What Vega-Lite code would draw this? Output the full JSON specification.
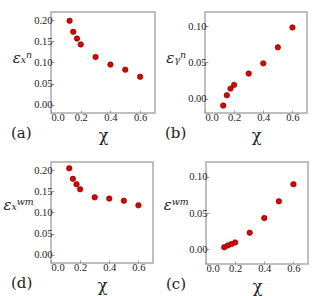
{
  "$schema": "https://vega.github.io/schema/vega-lite/v6.json",
  "background": "white",
  "padding": {"left": 2, "top": 11, "right": 2, "bottom": 0},
  "config": {
    "view": {"stroke": "#aaaaaa", "strokeWidth": 1.5},
    "axis": {"grid": false, "domain": false, "labelFont": "Liberation Serif", "labelFontSize": 10.5, "labelColor": "#222222", "tickColor": "#999999", "tickSize": -3, "labelPadding": 2, "titleFont": "DejaVu Serif", "titleFontWeight": "normal", "titleColor": "#222222"},
    "title": {"font": "DejaVu Serif", "fontSize": 15, "fontWeight": "normal", "color": "#222222"},
    "concat": {"spacing": 8}
  },
  "datasets": {
    "d": [
      {"chi": 0.125, "ex": 0.199, "ey": -0.0097, "exwm": 0.205, "ewm": 0.003},
      {"chi": 0.15, "ex": 0.173, "ey": 0.0046, "exwm": 0.180, "ewm": 0.0055},
      {"chi": 0.175, "ex": 0.157, "ey": 0.0138, "exwm": 0.167, "ewm": 0.0073},
      {"chi": 0.2, "ex": 0.143, "ey": 0.019, "exwm": 0.155, "ewm": 0.0096},
      {"chi": 0.3, "ex": 0.113, "ey": 0.0346, "exwm": 0.136, "ewm": 0.023},
      {"chi": 0.4, "ex": 0.095, "ey": 0.0488, "exwm": 0.133, "ewm": 0.043},
      {"chi": 0.5, "ex": 0.083, "ey": 0.071, "exwm": 0.128, "ewm": 0.066},
      {"chi": 0.6, "ex": 0.066, "ey": 0.0986, "exwm": 0.117, "ewm": 0.0895}
    ]
  },
  "vconcat": [
    {
      "hconcat": [
        {
          "width": 104, "height": 101,
          "data": {"name": "d"},
          "title": {"text": "(a)", "orient": "bottom", "anchor": "start", "frame": "group", "dx": -40, "offset": -18},
          "mark": {"type": "point", "filled": true, "fill": "#e00000", "stroke": "#550000", "strokeWidth": 0.6, "opacity": 1, "size": 30},
          "encoding": {
            "x": {"field": "chi", "type": "quantitative", "scale": {"domain": [0, 0.7], "nice": false}, "axis": {"values": [0, 0.2, 0.4, 0.6], "format": ".1f", "title": "χ", "titleFontSize": 16, "titlePadding": 5}},
            "y": {"field": "ex", "type": "quantitative", "scale": {"domain": [-0.02, 0.22], "nice": false, "zero": false}, "axis": {"values": [0, 0.05, 0.1, 0.15, 0.2], "format": ".2f", "title": "εₓⁿ", "titleFontStyle": "italic", "titleAngle": 0, "titleFontSize": 15, "titleY": 45, "titleAlign": "right", "titleBaseline": "middle", "titlePadding": 2}}
          }
        },
        {
          "width": 102, "height": 101,
          "data": {"name": "d"},
          "title": {"text": "(b)", "orient": "bottom", "anchor": "start", "frame": "group", "dx": -40, "offset": -18},
          "mark": {"type": "point", "filled": true, "fill": "#e00000", "stroke": "#550000", "strokeWidth": 0.6, "opacity": 1, "size": 30},
          "encoding": {
            "x": {"field": "chi", "type": "quantitative", "scale": {"domain": [0, 0.7], "nice": false}, "axis": {"values": [0, 0.2, 0.4, 0.6], "format": ".1f", "title": "χ", "titleFontSize": 16, "titlePadding": 5}},
            "y": {"field": "ey", "type": "quantitative", "scale": {"domain": [-0.02, 0.12], "nice": false, "zero": false}, "axis": {"values": [0, 0.05, 0.1], "format": ".2f", "title": "εᵧⁿ", "titleFontStyle": "italic", "titleAngle": 0, "titleFontSize": 15, "titleY": 45, "titleAlign": "right", "titleBaseline": "middle", "titlePadding": 2}}
          }
        }
      ]
    },
    {
      "hconcat": [
        {
          "width": 102, "height": 101,
          "data": {"name": "d"},
          "title": {"text": "(d)", "orient": "bottom", "anchor": "start", "frame": "group", "dx": -40, "offset": -18},
          "mark": {"type": "point", "filled": true, "fill": "#e00000", "stroke": "#550000", "strokeWidth": 0.6, "opacity": 1, "size": 30},
          "encoding": {
            "x": {"field": "chi", "type": "quantitative", "scale": {"domain": [0, 0.7], "nice": false}, "axis": {"values": [0, 0.2, 0.4, 0.6], "format": ".1f", "title": "χ", "titleFontSize": 16, "titlePadding": 5}},
            "y": {"field": "exwm", "type": "quantitative", "scale": {"domain": [-0.02, 0.22], "nice": false, "zero": false}, "axis": {"values": [0, 0.05, 0.1, 0.15, 0.2], "format": ".2f", "title": "εₓʷᵐ", "titleFontStyle": "italic", "titleAngle": 0, "titleFontSize": 15, "titleY": 42, "titleAlign": "right", "titleBaseline": "middle", "titlePadding": 0}}
          }
        },
        {
          "width": 102, "height": 102,
          "data": {"name": "d"},
          "title": {"text": "(c)", "orient": "bottom", "anchor": "start", "frame": "group", "dx": -40, "offset": -18},
          "mark": {"type": "point", "filled": true, "fill": "#e00000", "stroke": "#550000", "strokeWidth": 0.6, "opacity": 1, "size": 30},
          "encoding": {
            "x": {"field": "chi", "type": "quantitative", "scale": {"domain": [0, 0.7], "nice": false}, "axis": {"values": [0, 0.2, 0.4, 0.6], "format": ".1f", "title": "χ", "titleFontSize": 16, "titlePadding": 5}},
            "y": {"field": "ewm", "type": "quantitative", "scale": {"domain": [-0.02, 0.12], "nice": false, "zero": false}, "axis": {"values": [0, 0.05, 0.1], "format": ".2f", "title": "εʷᵐ", "titleFontStyle": "italic", "titleAngle": 0, "titleFontSize": 15, "titleY": 42, "titleAlign": "right", "titleBaseline": "middle", "titlePadding": 0}}
          }
        }
      ]
    }
  ],
  "spacing": 16
}
